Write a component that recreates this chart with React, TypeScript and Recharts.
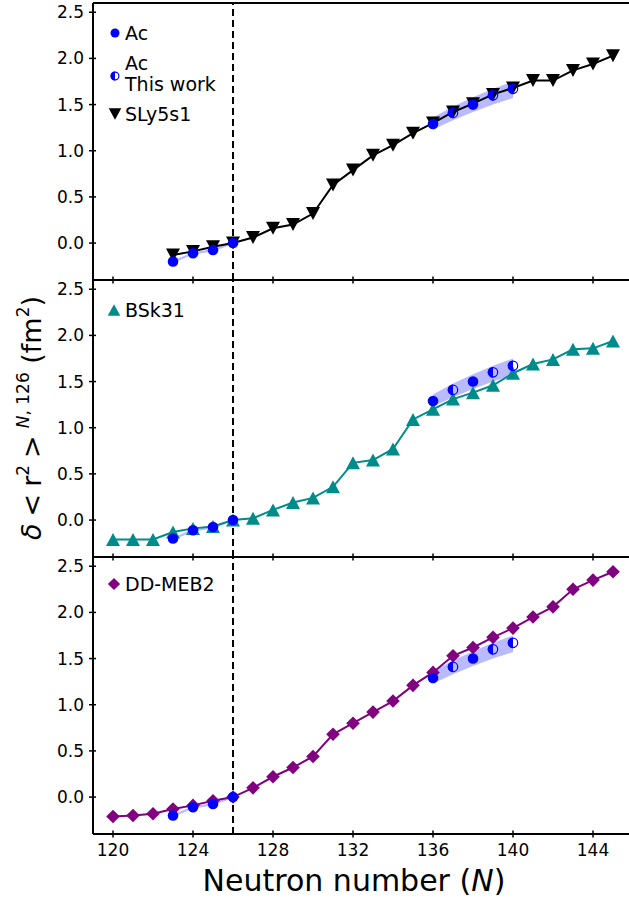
import React from 'react';
import { ComposedChart, Line, Area, XAxis, YAxis, ReferenceLine } from 'recharts';

const N_VALUES = [120, 121, 122, 123, 124, 125, 126, 127, 128, 129, 130, 131, 132, 133, 134, 135, 136, 137, 138, 139, 140, 141, 142, 143, 144, 145];

const SLY5S1 = [null, null, null, -0.13, -0.09, -0.04, 0.0, 0.06, 0.16, 0.2, 0.32, 0.63, 0.79, 0.95, 1.06, 1.19, 1.3, 1.42, 1.51, 1.61, 1.68, 1.76, 1.76, 1.87, 1.94, 2.03];
const BSK31 = [-0.21, -0.21, -0.21, -0.13, -0.09, -0.07, 0.0, 0.02, 0.11, 0.19, 0.24, 0.36, 0.62, 0.65, 0.77, 1.09, 1.2, 1.31, 1.38, 1.46, 1.59, 1.69, 1.74, 1.85, 1.86, 1.94];
const DDMEB2 = [-0.21, -0.2, -0.18, -0.13, -0.09, -0.04, 0.0, 0.1, 0.22, 0.32, 0.44, 0.68, 0.8, 0.92, 1.04, 1.21, 1.35, 1.53, 1.62, 1.73, 1.83, 1.95, 2.06, 2.25, 2.35, 2.44];

// experimental Ac (filled) and this work (half filled)
const AC = [null, null, null, -0.2, -0.11, -0.075, 0.0, null, null, null, null, null, null, null, null, null, 1.29, null, 1.5, null, null, null, null, null, null, null];
const AC_THIS_WORK = [null, null, null, null, null, null, null, null, null, null, null, null, null, null, null, null, null, 1.41, null, 1.6, 1.67, null, null, null, null, null];
const BAND_LOW = [null, null, null, -0.215, -0.125, -0.09, -0.01, null, null, null, null, null, null, null, null, null, 1.23, 1.33, 1.42, 1.5, 1.57, null, null, null, null, null];
const BAND_HIGH = [null, null, null, -0.19, -0.1, -0.065, 0.01, null, null, null, null, null, null, null, null, null, 1.36, 1.48, 1.58, 1.67, 1.75, null, null, null, null, null];

const X_TICKS = [120, 124, 128, 132, 136, 140, 144];
const Y_TICKS = [0, 0.5, 1, 1.5, 2, 2.5];

const rows = N_VALUES.map((n, i) => ({
  n,
  sly: SLY5S1[i],
  bsk: BSK31[i],
  dd: DDMEB2[i],
  ac: AC[i],
  acw: AC_THIS_WORK[i],
  band: BAND_LOW[i] != null && BAND_HIGH[i] != null ? [BAND_LOW[i], BAND_HIGH[i]] : null,
}));

const FONT = 'DejaVu Sans';
const CHART_W = 633;
const BLUE = '#0000ff';
const TEAL = '#008b8b';
const PURPLE = '#800080';
const AXIS = { stroke: '#000', strokeWidth: 2 };

type Shape = 'triDown' | 'triUp' | 'diamond' | 'circle' | 'half';

function marker(shape: Shape, cx: number, cy: number, color: string, s = 1) {
  if (shape === 'triDown') {
    const w = 7 * s, h = 6.5 * s;
    return <path d={`M${cx - w},${cy - h}L${cx + w},${cy - h}L${cx},${cy + h}Z`} fill={color} />;
  }
  if (shape === 'triUp') {
    const w = 7 * s, h = 6.5 * s;
    return <path d={`M${cx - w},${cy + h}L${cx + w},${cy + h}L${cx},${cy - h}Z`} fill={color} />;
  }
  if (shape === 'diamond') {
    const r = 6.8 * s;
    return <path d={`M${cx},${cy - r}L${cx + r},${cy}L${cx},${cy + r}L${cx - r},${cy}Z`} fill={color} />;
  }
  const r = 5.3 * s;
  if (shape === 'circle') return <circle cx={cx} cy={cy} r={r} fill={color} />;
  return (
    <g>
      <path d={`M${cx},${cy - r}A${r},${r} 0 0 0 ${cx},${cy + r}Z`} fill={color} />
      <circle cx={cx} cy={cy} r={r - 0.6} fill="none" stroke={color} strokeWidth={1.2} />
    </g>
  );
}

const makeDot = (shape: Shape, color: string) => (p: any) => {
  const { cx, cy, value, index } = p;
  if (cx == null || cy == null || value == null || isNaN(cy)) return <g key={`e${index}`} />;
  return <g key={`d${index}`}>{marker(shape, cx, cy, color)}</g>;
};

const xTick = (showLabel: boolean) => (p: any) => {
  const { x, y, payload } = p;
  const ay = y - 4;
  return (
    <g>
      <line x1={x} x2={x} y1={ay - 3.5} y2={ay + 3.5} stroke="#000" strokeWidth={1.5} />
      {showLabel && (
        <text x={x} y={ay + 22} textAnchor="middle" fontSize={17} fill="#000" fontFamily={FONT}>
          {payload.value}
        </text>
      )}
    </g>
  );
};

const yTick = (p: any) => {
  const { x, y, payload } = p;
  const ax = x + 4;
  return (
    <g>
      <line x1={ax - 4} x2={ax + 3} y1={y} y2={y} stroke="#000" strokeWidth={1.5} />
      <text x={ax - 9} y={y + 6} textAnchor="end" fontSize={17} fill="#000" fontFamily={FONT}>
        {Number(payload.value).toFixed(1)}
      </text>
    </g>
  );
};

interface PanelProps {
  top: number;
  height: number;
  marginTop: number;
  bottomAxisHeight: number;
  dataKey: string;
  color: string;
  shape: Shape;
  showXLabels: boolean;
}

function Panel({ top, height, marginTop, bottomAxisHeight, dataKey, color, shape, showXLabels }: PanelProps) {
  return (
    <div style={{ position: 'absolute', left: 0, top, width: CHART_W, height }}>
      <ComposedChart width={CHART_W} height={height} data={rows} margin={{ top: marginTop, right: 0, bottom: 0, left: 0 }}>
        <XAxis
          xAxisId="top"
          orientation="top"
          dataKey="n"
          type="number"
          domain={[119, 146]}
          allowDataOverflow
          height={1}
          tick={false}
          tickLine={false}
          axisLine={AXIS}
        />
        <XAxis
          dataKey="n"
          type="number"
          domain={[119, 146]}
          allowDataOverflow
          ticks={X_TICKS}
          interval={0}
          height={bottomAxisHeight}
          tickSize={4}
          tickMargin={0}
          tickLine={false}
          axisLine={AXIS}
          tick={xTick(showXLabels)}
        />
        <YAxis
          type="number"
          domain={[-0.4, 2.6]}
          allowDataOverflow
          ticks={Y_TICKS}
          interval={0}
          width={93}
          tickSize={4}
          tickMargin={0}
          tickLine={false}
          axisLine={AXIS}
          tick={yTick}
        />
        <Area dataKey="band" stroke="none" fill={BLUE} fillOpacity={0.27} isAnimationActive={false} activeDot={false} />
        <ReferenceLine x={126} stroke="#000" strokeWidth={2} strokeDasharray="7 4" />
        <Line dataKey={dataKey} stroke={color} strokeWidth={2} dot={makeDot(shape, color)} activeDot={false} isAnimationActive={false} />
        <Line dataKey="ac" stroke="none" dot={makeDot('circle', BLUE)} activeDot={false} isAnimationActive={false} />
        <Line dataKey="acw" stroke="none" dot={makeDot('half', BLUE)} activeDot={false} isAnimationActive={false} />
      </ComposedChart>
    </div>
  );
}

function Legends() {
  const t = { fontSize: 19, fill: '#000', fontFamily: FONT };
  return (
    <g>
      {marker('circle', 115, 33, BLUE, 0.85)}
      <text x={125} y={40} {...t}>Ac</text>
      {marker('half', 115, 76, BLUE, 0.85)}
      <text x={125} y={70} {...t}>Ac</text>
      <text x={125} y={91} {...t}>This work</text>
      {marker('triDown', 115, 114, '#000', 0.9)}
      <text x={125} y={121} {...t}>SLy5s1</text>

      {marker('triUp', 114, 310, TEAL, 0.9)}
      <text x={125} y={317} {...t}>BSk31</text>

      {marker('diamond', 114, 584, PURPLE, 0.9)}
      <text x={125} y={591} {...t}>DD-MEB2</text>
    </g>
  );
}

export default function App() {
  return (
    <div
      style={{
        position: 'absolute',
        left: 0,
        top: 0,
        width: 629,
        height: 899,
        overflow: 'hidden',
        background: '#fff',
        fontFamily: FONT,
      }}
    >
      <Panel top={0} height={290} marginTop={2} bottomAxisHeight={10} dataKey="sly" color="#000" shape="triDown" showXLabels={false} />
      <Panel top={270} height={297} marginTop={9} bottomAxisHeight={10} dataKey="bsk" color={TEAL} shape="triUp" showXLabels={false} />
      <Panel top={547} height={352} marginTop={9} bottomAxisHeight={65} dataKey="dd" color={PURPLE} shape="diamond" showXLabels />
      <svg width={629} height={899} style={{ position: 'absolute', left: 0, top: 0, pointerEvents: 'none' }}>
        <Legends />
        <text x={354} y={891} textAnchor="middle" fontSize={30} fill="#000" fontFamily={FONT}>
          Neutron number (<tspan fontStyle="italic">N</tspan>)
        </text>
        <text transform="rotate(-90)" x={-418} y={41} textAnchor="middle" fontSize={27} fill="#000" fontFamily={FONT}>
          <tspan fontStyle="italic">δ</tspan>
          <tspan dx={7}>&lt;</tspan>
          <tspan dx={7}>r</tspan>
          <tspan fontSize={17} dy={-12}>2</tspan>
          <tspan dy={12} dx={7}>&gt;</tspan>
          <tspan fontSize={17} dy={-12} dx={7}>
            <tspan fontStyle="italic">N</tspan>, 126
          </tspan>
          <tspan dy={12}> (fm</tspan>
          <tspan fontSize={17} dy={-12}>2</tspan>
          <tspan dy={12}>)</tspan>
        </text>
      </svg>
    </div>
  );
}
